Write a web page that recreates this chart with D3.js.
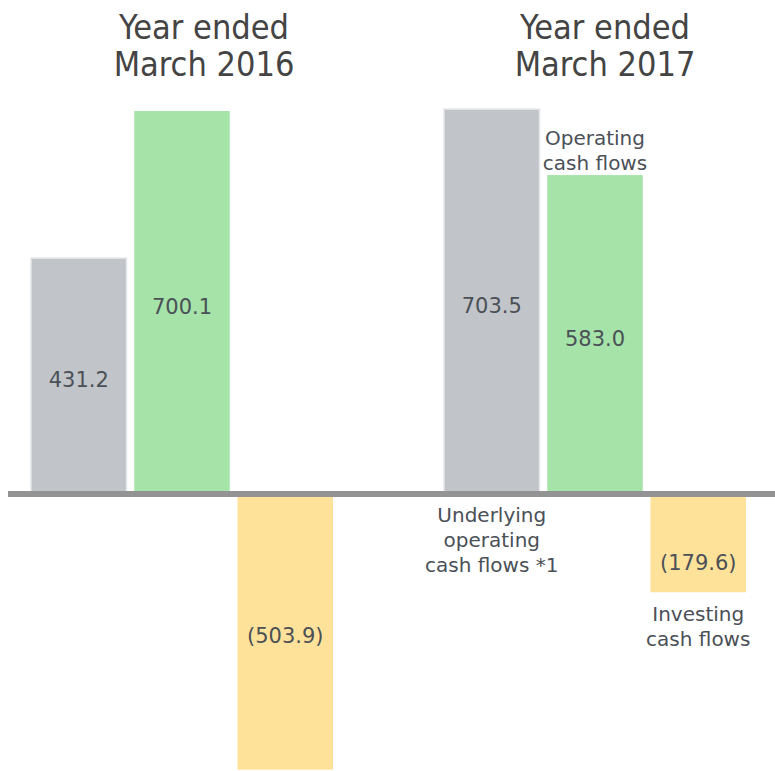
<!DOCTYPE html>
<html>
<head>
<meta charset="utf-8">
<script src="https://cdn.jsdelivr.net/npm/d3@7"></script>
<style>
  body { margin: 0; background: #fff; }
  text { font-family: "DejaVu Sans", Verdana, sans-serif; fill: #4b5057; }
  .title { font-family: "DejaVu Sans Condensed", "DejaVu Sans", sans-serif; fill: #444; }
</style>
</head>
<body>
<div id="chart"></div>
<script>
// Chart data

var years = ["Year ended March 2016", "Year ended March 2017"];
var yearTitles = [["Year ended", "March 2016"], ["Year ended", "March 2017"]];
var series = ["underlying", "operating", "investing"];
var seriesNames = [
    ["Underlying", "operating", "cash flows *1"],
    ["Operating", "cash flows"],
    ["Investing", "cash flows"]
];
var values2016 = [431.2, 700.1, -503.9];
var values2017 = [703.5, 583.0, -179.6];

var colors = { underlying: "#c1c5c9", operating: "#a5e3a9", investing: "#ffe299" };

var width = 775,
    height = 771;

var svg = d3.select("#chart").append("svg")
    .attr("width", width)
    .attr("height", height);

var x0 = d3.scaleBand()
    .domain(years)
    .range([31, 746])
    .paddingInner(0.2688);

var x1 = d3.scaleBand()
    .domain(series)
    .range([0, x0.bandwidth()])
    .paddingInner(0.075);

// titles are not centred on the groups in the original
var titleX = d3.scalePoint()
    .domain(years)
    .range([204, 605]);

var y = d3.scaleLinear()
    .domain([0, 700.1])
    .range([494, 111]);

var rows = [];
[values2016, values2017].forEach(function(vals, i) {
    vals.forEach(function(v, j) {
        rows.push({ year: years[i], yi: i, key: series[j], si: j, value: v });
    });
});

var fmt = function(v) {
    var s = d3.format(".1f")(Math.abs(v));
    return v < 0 ? "(" + s + ")" : s;
};

// Bars

svg.selectAll(".bar")
    .data(rows)
  .enter().append("rect")
    .attr("class", "bar")
    .attr("x", function(d) { return x0(d.year) + x1(d.key); })
    .attr("width", x1.bandwidth())
    .attr("y", function(d) { return Math.min(y(d.value), y(0)); })
    .attr("height", function(d) { return Math.abs(y(d.value) - y(0)); })
    .attr("fill", function(d) { return colors[d.key]; })
    .attr("stroke", function(d) { return d.key === "underlying" ? "#e4e6e9" : "none"; })
    .attr("stroke-width", 1.5);

// Zero line

svg.append("line")
    .attr("x1", 8)
    .attr("x2", width)
    .attr("y1", y(0))
    .attr("y2", y(0))
    .attr("stroke", "#939393")
    .attr("stroke-width", 6);

// Value labels

svg.selectAll(".value")
    .data(rows)
  .enter().append("text")
    .attr("class", "value")
    .attr("x", function(d) { return x0(d.year) + x1(d.key) + x1.bandwidth() / 2; })
    .attr("y", function(d) {
        var h = Math.abs(y(d.value) - y(0));
        if (d.value < 0 && h < 150) return y(d.value) - 22;
        return (y(d.value) + y(0)) / 2 + 11;
    })
    .attr("text-anchor", "middle")
    .style("font-size", "21px")
    .text(function(d) { return fmt(d.value); });

// Titles

yearTitles.forEach(function(lines, i) {
    var t = svg.append("text")
        .attr("class", "title")
        .attr("x", titleX(years[i]))
        .attr("y", 39)
        .attr("text-anchor", "middle")
        .style("font-size", "34px");
    lines.forEach(function(l, k) {
        t.append("tspan")
            .attr("x", titleX(years[i]))
            .attr("dy", k === 0 ? 0 : 37)
            .text(l);
    });
});

// Series names, next to the 2017 bars

rows.filter(function(d) { return d.yi === 1; }).forEach(function(d) {
    var lines = seriesNames[d.si];
    var cx = x0(d.year) + x1(d.key) + x1.bandwidth() / 2;
    var startY;
    if (d.key === "operating") {
        startY = y(d.value) - 5 - (lines.length - 1) * 25;
    } else if (d.key === "investing") {
        startY = y(d.value) + 29;
    } else {
        startY = y(0) + 28;
    }
    var t = svg.append("text")
        .attr("x", cx)
        .attr("y", startY)
        .attr("text-anchor", "middle")
        .style("font-size", "20px");
    lines.forEach(function(l, k) {
        t.append("tspan")
            .attr("x", cx)
            .attr("dy", k === 0 ? 0 : 25)
            .text(l);
    });
});
</script>
</body>
</html>
